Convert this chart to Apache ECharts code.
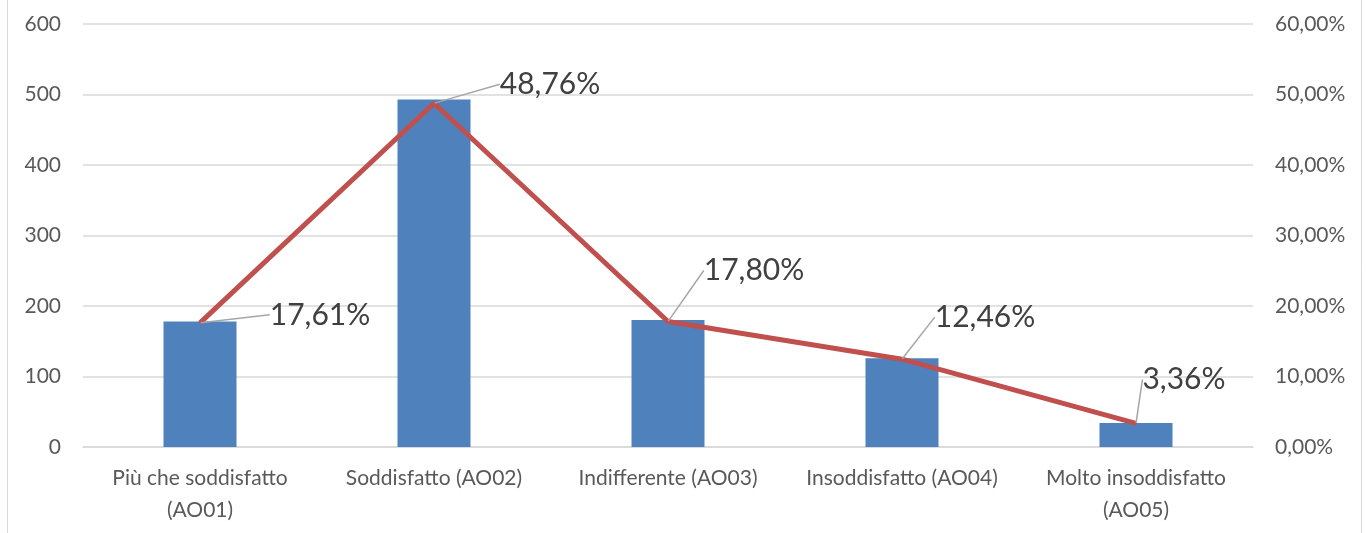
<!DOCTYPE html>
<html>
<head>
<meta charset="utf-8">
<style>
  html, body { margin: 0; padding: 0; background: #ffffff; }
  #chart { width: 1366px; height: 533px; }
</style>
<script src="https://cdn.jsdelivr.net/npm/echarts@6/dist/echarts.min.js"></script>
</head>
<body>
<div id="chart"></div>
<script>
// Categories of satisfaction answers
const categories = [
  'Più che soddisfatto\n(AO01)',
  'Soddisfatto (AO02)',
  'Indifferente (AO03)',
  'Insoddisfatto (AO04)',
  'Molto insoddisfatto\n(AO05)'
];
// Number of answers per category (left axis)
const counts = [178, 493, 180, 126, 34];
// Share of answers in percent (right axis)
const shares = [17.61, 48.76, 17.80, 12.46, 3.36];
// Offsets of the percentage labels from their points
const labelOffsets = [[120, -8], [116, -19], [86, -51], [83, -42], [48, -44]];

const fontFamily = 'Lato, "Open Sans", sans-serif';
const fmtPct = v => v.toFixed(2).replace('.', ',') + '%';

const chart = echarts.init(document.getElementById('chart'), null, { renderer: 'canvas' });

chart.setOption({
  animation: false,
  backgroundColor: '#ffffff',
  textStyle: { fontFamily },
  graphic: [{
    type: 'rect',
    shape: { x: 7.5, y: -5, width: 1354, height: 545 },
    style: { fill: 'none', stroke: '#d9d9d9', lineWidth: 1 },
    silent: true
  }],
  grid: { left: 83, right: 113, top: 24, bottom: 86, containLabel: false },
  xAxis: {
    type: 'category',
    data: categories,
    axisLine: { show: true, lineStyle: { color: '#d9d9d9', width: 1.5 } },
    axisTick: { show: false },
    axisLabel: {
      color: '#595959', fontSize: 21, lineHeight: 32, margin: 15, interval: 0,
      fontFamily
    }
  },
  yAxis: [{
    type: 'value', min: 0, max: 600, interval: 100,
    axisLine: { show: false }, axisTick: { show: false },
    splitLine: { lineStyle: { color: '#d9d9d9', width: 1.5 } },
    axisLabel: { color: '#595959', fontSize: 21, margin: 22, fontFamily }
  }, {
    type: 'value', min: 0, max: 60, interval: 10, position: 'right',
    axisLine: { show: false }, axisTick: { show: false },
    splitLine: { show: false },
    axisLabel: { color: '#595959', fontSize: 21, margin: 22, fontFamily, formatter: v => fmtPct(v) }
  }],
  series: [{
    name: 'Risposte',
    type: 'bar',
    data: counts,
    barWidth: 73,
    itemStyle: { color: '#4f81bd' },
    yAxisIndex: 0
  }, {
    name: 'Percentuale',
    type: 'line',
    data: shares,
    yAxisIndex: 1,
    symbol: 'circle',
    symbolSize: 1,
    lineStyle: { color: '#c0504d', width: 5 },
    itemStyle: { color: '#c0504d' },
    z: 3,
    label: {
      show: true,
      position: 'inside',
      color: '#404040',
      fontSize: 30,
      fontFamily,
      formatter: p => fmtPct(p.value)
    },
    labelLine: { show: true, lineStyle: { color: '#a6a6a6', width: 1.5 } },
    labelLayout: p => ({ dx: labelOffsets[p.dataIndex][0], dy: labelOffsets[p.dataIndex][1] })
  }]
});
</script>
</body>
</html>
